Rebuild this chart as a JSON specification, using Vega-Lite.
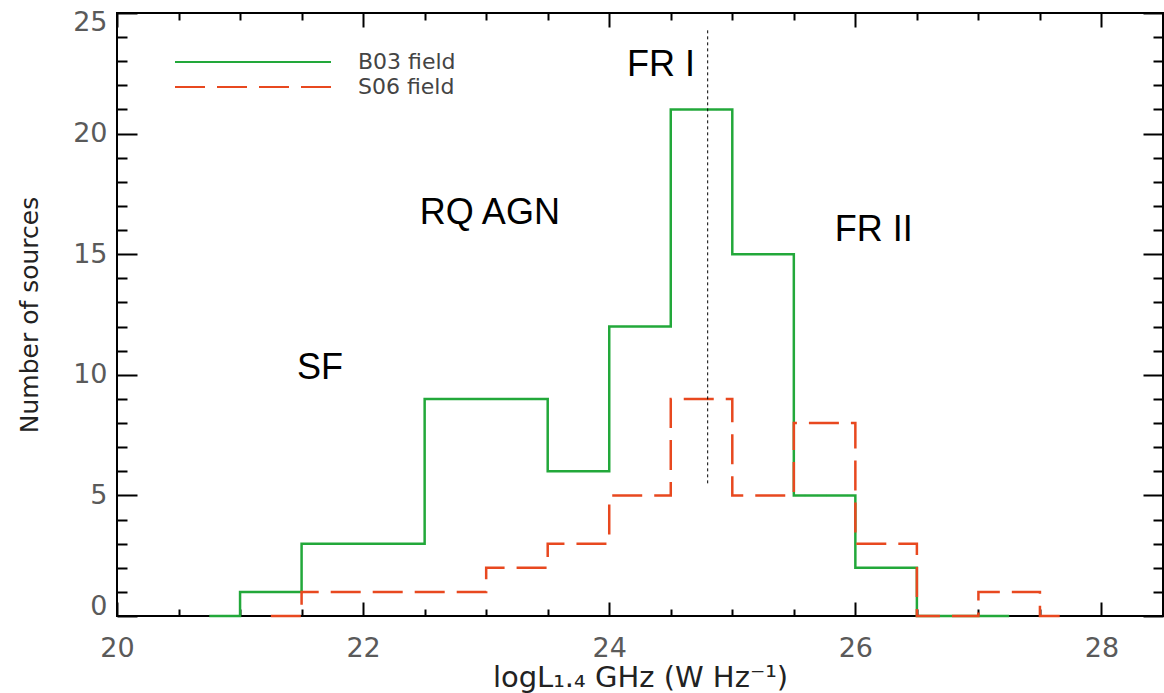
{
  "$schema": "https://vega.github.io/schema/vega-lite/v6.json",
  "width": 1046,
  "height": 603,
  "autosize": {"type": "none"},
  "padding": {"left": 117, "top": 13, "right": 1, "bottom": 77},
  "background": "white",
  "config": {
    "view": {"stroke": "black", "strokeWidth": 2},
    "axis": {
      "domain": false,
      "grid": false,
      "labelFont": "DejaVu Sans",
      "labelFontSize": 27,
      "labelColor": "#5a5a5a",
      "tickColor": "black",
      "tickWidth": 2,
      "titleFont": "DejaVu Sans",
      "titleFontSize": 25,
      "titleColor": "#222222",
      "titleFontWeight": "normal"
    },
    "legend": {
      "orient": "none",
      "legendX": 125,
      "legendY": 38,
      "symbolType": "M-15.6,0H15.6",
      "symbolSize": 100,
      "symbolStrokeWidth": 2,
      "labelFont": "DejaVu Sans",
      "labelFontSize": 22,
      "labelColor": "#444444",
      "labelOffset": 94,
      "rowPadding": 3,
      "padding": 0
    }
  },
  "datasets": {
    "hist": [
      {"series": "B03 field", "logL": 20.75, "n": 0},
      {"series": "B03 field", "logL": 21.25, "n": 1},
      {"series": "B03 field", "logL": 21.75, "n": 3},
      {"series": "B03 field", "logL": 22.25, "n": 3},
      {"series": "B03 field", "logL": 22.75, "n": 9},
      {"series": "B03 field", "logL": 23.25, "n": 9},
      {"series": "B03 field", "logL": 23.75, "n": 6},
      {"series": "B03 field", "logL": 24.25, "n": 12},
      {"series": "B03 field", "logL": 24.75, "n": 21},
      {"series": "B03 field", "logL": 25.25, "n": 15},
      {"series": "B03 field", "logL": 25.75, "n": 5},
      {"series": "B03 field", "logL": 26.25, "n": 2},
      {"series": "B03 field", "logL": 26.75, "n": 0},
      {"series": "B03 field", "logL": 27.25, "n": 0},
      {"series": "S06 field", "logL": 21.25, "n": 0},
      {"series": "S06 field", "logL": 21.75, "n": 1},
      {"series": "S06 field", "logL": 22.25, "n": 1},
      {"series": "S06 field", "logL": 22.75, "n": 1},
      {"series": "S06 field", "logL": 23.25, "n": 2},
      {"series": "S06 field", "logL": 23.75, "n": 3},
      {"series": "S06 field", "logL": 24.25, "n": 5},
      {"series": "S06 field", "logL": 24.75, "n": 9},
      {"series": "S06 field", "logL": 25.25, "n": 5},
      {"series": "S06 field", "logL": 25.75, "n": 8},
      {"series": "S06 field", "logL": 26.25, "n": 3},
      {"series": "S06 field", "logL": 26.75, "n": 0},
      {"series": "S06 field", "logL": 27.25, "n": 1},
      {"series": "S06 field", "logL": 27.75, "n": 0}
    ],
    "vline": [{"logL": 24.8, "lo": 5.5, "hi": 24.3}],
    "labels": [
      {"label": "SF", "logL": 21.65, "n": 10.3},
      {"label": "RQ AGN", "logL": 23.03, "n": 16.7},
      {"label": "FR I", "logL": 24.42, "n": 22.85},
      {"label": "FR II", "logL": 26.15, "n": 16.0}
    ]
  },
  "resolve": {"axis": {"x": "independent", "y": "independent"}},
  "layer": [
    {
      "data": {"name": "hist"},
      "mark": {"type": "line", "interpolate": "step", "strokeWidth": 2.5},
      "encoding": {
        "x": {
          "field": "logL", "type": "quantitative",
          "scale": {"domain": [20, 28.5], "nice": false, "zero": false},
          "axis": {"orient": "bottom", "values": [20, 22, 24, 26, 28], "tickSize": -14, "labelPadding": 33, "labelFlush": false, "title": "logL₁.₄ GHz (W Hz⁻¹)", "titleFontSize": 29, "titlePadding": 2}
        },
        "y": {
          "field": "n", "type": "quantitative",
          "scale": {"domain": [0, 25], "nice": false, "zero": true},
          "axis": {"orient": "left", "values": [0, 5, 10, 15, 20, 25], "tickSize": -20, "labelPadding": 30, "labelFlush": true, "labelFlushOffset": 4, "title": "Number of sources", "titlePadding": 30}
        },
        "color": {
          "field": "series", "type": "nominal",
          "scale": {"domain": ["B03 field", "S06 field"], "range": ["#22a83a", "#e8481f"]},
          "legend": {"title": null}
        },
        "strokeDash": {
          "field": "series", "type": "nominal",
          "scale": {"domain": ["B03 field", "S06 field"], "range": [[1, 0], [30, 12]]},
          "legend": {"title": null}
        }
      }
    },
    {
      "data": {"name": "vline"},
      "mark": {"type": "rule", "color": "black", "strokeWidth": 1, "strokeDash": [3, 3]},
      "encoding": {
        "x": {
          "field": "logL", "type": "quantitative",
          "scale": {"domain": [20, 28.5], "nice": false, "zero": false},
          "axis": {"orient": "bottom", "values": [20.5, 21, 21.5, 22.5, 23, 23.5, 24.5, 25, 25.5, 26.5, 27, 27.5, 28.5], "tickSize": -7, "labels": false, "title": null}
        },
        "y": {
          "field": "lo", "type": "quantitative",
          "scale": {"domain": [0, 25], "nice": false},
          "axis": {"orient": "left", "values": [1, 2, 3, 4, 6, 7, 8, 9, 11, 12, 13, 14, 16, 17, 18, 19, 21, 22, 23, 24], "tickSize": -10, "labels": false, "title": null}
        },
        "y2": {"field": "hi"}
      }
    },
    {
      "data": {"name": "labels"},
      "mark": {"type": "text", "font": "Liberation Sans", "fontSize": 36, "color": "black", "align": "center", "baseline": "middle"},
      "encoding": {
        "x": {
          "field": "logL", "type": "quantitative",
          "scale": {"domain": [20, 28.5], "nice": false, "zero": false},
          "axis": {"orient": "top", "values": [20, 22, 24, 26, 28], "tickSize": -14, "labels": false, "title": null}
        },
        "y": {
          "field": "n", "type": "quantitative",
          "scale": {"domain": [0, 25], "nice": false},
          "axis": {"orient": "right", "values": [0, 5, 10, 15, 20, 25], "tickSize": -20, "labels": false, "title": null}
        },
        "text": {"field": "label"}
      }
    },
    {
      "data": {"name": "labels"},
      "mark": {"type": "point", "opacity": 0},
      "encoding": {
        "x": {
          "field": "logL", "type": "quantitative",
          "scale": {"domain": [20, 28.5], "nice": false, "zero": false},
          "axis": {"orient": "top", "values": [20.5, 21, 21.5, 22.5, 23, 23.5, 24.5, 25, 25.5, 26.5, 27, 27.5, 28.5], "tickSize": -7, "labels": false, "title": null}
        },
        "y": {
          "field": "n", "type": "quantitative",
          "scale": {"domain": [0, 25], "nice": false},
          "axis": {"orient": "right", "values": [1, 2, 3, 4, 6, 7, 8, 9, 11, 12, 13, 14, 16, 17, 18, 19, 21, 22, 23, 24], "tickSize": -10, "labels": false, "title": null}
        }
      }
    }
  ]
}
